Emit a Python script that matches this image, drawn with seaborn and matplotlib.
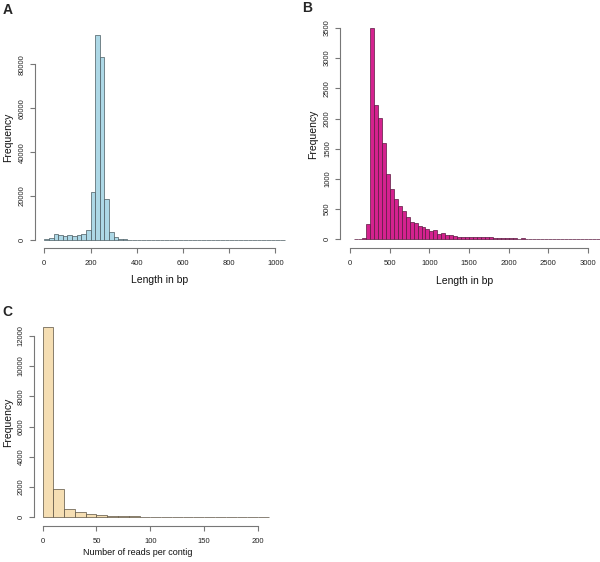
"""
Length / read-count histograms (panels A, B, C), R base-graphics look
"""
#%% Load packages and variables
import numpy as np
import pandas as pd
import matplotlib
matplotlib.use('Agg')
import matplotlib.pyplot as plt
import seaborn as sns

# Panel A: read length, bins of 20 bp from 0 to 1040
a_edges = list(range(0, 1041, 20))
a_counts = [300, 800, 2600, 2300, 2000, 2100, 2000, 2300, 2700, 4600,
            21700, 93500, 83200, 18800, 3500, 1200, 600, 300, 200,
            150, 120, 100, 90, 80, 70, 60, 55, 50, 45, 40, 38, 35, 32, 30,
            28, 26, 24, 22, 20, 20, 18, 17, 16, 15, 14, 13, 12, 12, 11, 10, 10, 9]

# Panel B: contig length, bins of 50 bp from 50 to 3150
b_edges = list(range(50, 3151, 50))
b_counts = [5, 10, 25, 248, 3495, 2225, 2004, 1590, 1082, 834, 668, 558, 475,
            375, 293, 265, 226, 199, 171, 144, 149, 88, 110, 77, 66, 55, 44,
            42, 40, 38, 35, 30, 32, 33, 30, 20, 22, 20, 18, 17, 15, 13, 14,
            12, 11, 12, 10, 9, 8, 7, 6, 8, 6, 5, 5, 4, 5, 4, 3, 4, 3, 3]

# Panel C: reads per contig, bins of 10 from 0 to 210
c_edges = list(range(0, 211, 10))
c_counts = [12595, 1890, 570, 330, 200, 130, 90, 65, 55, 45, 35, 25, 20,
            17, 14, 12, 10, 8, 6, 5, 4]

a_xticks = [0, 200, 400, 600, 800, 1000]
a_yticks = [0, 20000, 40000, 60000, 80000]
b_xticks = [0, 500, 1000, 1500, 2000, 2500, 3000]
b_yticks = [0, 500, 1000, 1500, 2000, 2500, 3000, 3500]
c_xticks = [0, 50, 100, 150, 200]
c_yticks = [0, 2000, 4000, 6000, 8000, 10000, 12000]

#%% Plot
sns.set_style('ticks')
plt.rcParams['font.family'] = ['Liberation Sans', 'DejaVu Sans']
plt.rcParams['axes.edgecolor'] = '#777777'
plt.rcParams['xtick.color'] = '#777777'
plt.rcParams['ytick.color'] = '#777777'
plt.rcParams['xtick.labelcolor'] = '#222222'
plt.rcParams['ytick.labelcolor'] = '#222222'

W, H = 600, 562
fig = plt.figure(figsize=(W / 100, H / 100), dpi=100)


def add_axes_px(left, top, right, bottom):
    return fig.add_axes([left / W, 1 - bottom / H, (right - left) / W, (bottom - top) / H])


def r_hist(ax, edges, counts, color, edge, xticks, yticks, xlim, ylim, xlabel,
           xlabel_size, xlab_pos, ylab_pos):
    df = pd.DataFrame({'mid': [(lo + hi) / 2 for lo, hi in zip(edges[:-1], edges[1:])],
                       'n': counts})
    sns.histplot(df, x='mid', weights='n', bins=edges, color=color, alpha=1,
                 edgecolor=edge, linewidth=0.5, ax=ax)
    ax.set_xlim(xlim)
    ax.set_ylim(ylim)
    ax.set_xticks(xticks)
    ax.set_yticks(yticks)
    ax.tick_params(labelsize=5.5, length=3.5, width=0.8)
    ax.tick_params(axis='x', pad=5)
    ax.tick_params(axis='y', pad=3)
    plt.setp(ax.get_yticklabels(), rotation=90, va='center')
    ax.set_xlabel(xlabel, fontsize=xlabel_size, color='#111111')
    ax.set_ylabel('Frequency', fontsize=7.5, color='#111111')
    ax.xaxis.set_label_coords(*xlab_pos)
    ax.yaxis.set_label_coords(*ylab_pos)
    sns.despine(ax=ax, trim=True)
    for sp in ['left', 'bottom']:
        ax.spines[sp].set_linewidth(0.8)


# A
ax_a = add_axes_px(34.7, 26.4, 294.2, 248.2)
r_hist(ax_a, a_edges, a_counts, '#add8e6', '#4a5a60', a_xticks, a_yticks,
       (-41.6, 1081.6), (-3740, 97240), 'Length in bp', 7.5,
       (0.48, -0.12), (-0.083, 0.5))

# B
ax_b = add_axes_px(340, 19.8, 600, 248.3)
r_hist(ax_b, b_edges, b_counts, '#d4228f', '#5a1a40', b_xticks, b_yticks,
       (-129, 3153), (-149, 3635), 'Length in bp', 7.5,
       (0.48, -0.12), (-0.083, 0.5))

# C
ax_c = add_axes_px(33.5, 319.1, 278, 526)
r_hist(ax_c, c_edges, c_counts, '#f5deb3', '#5a5040', c_xticks, c_yticks,
       (-8.4, 218.4), (-575, 13099), 'Number of reads per contig', 6.5,
       (0.427, -0.108), (-0.083, 0.5))

fig.text(8 / W, 1 - 10 / H, 'A', fontsize=10, fontweight='bold', ha='center', va='center')
fig.text(307 / W, 1 - 8 / H, 'B', fontsize=10, fontweight='bold', ha='center', va='center')
fig.text(7 / W, 1 - 312 / H, 'C', fontsize=10, fontweight='bold', ha='center', va='center')

plt.savefig('out.png', dpi=100)
